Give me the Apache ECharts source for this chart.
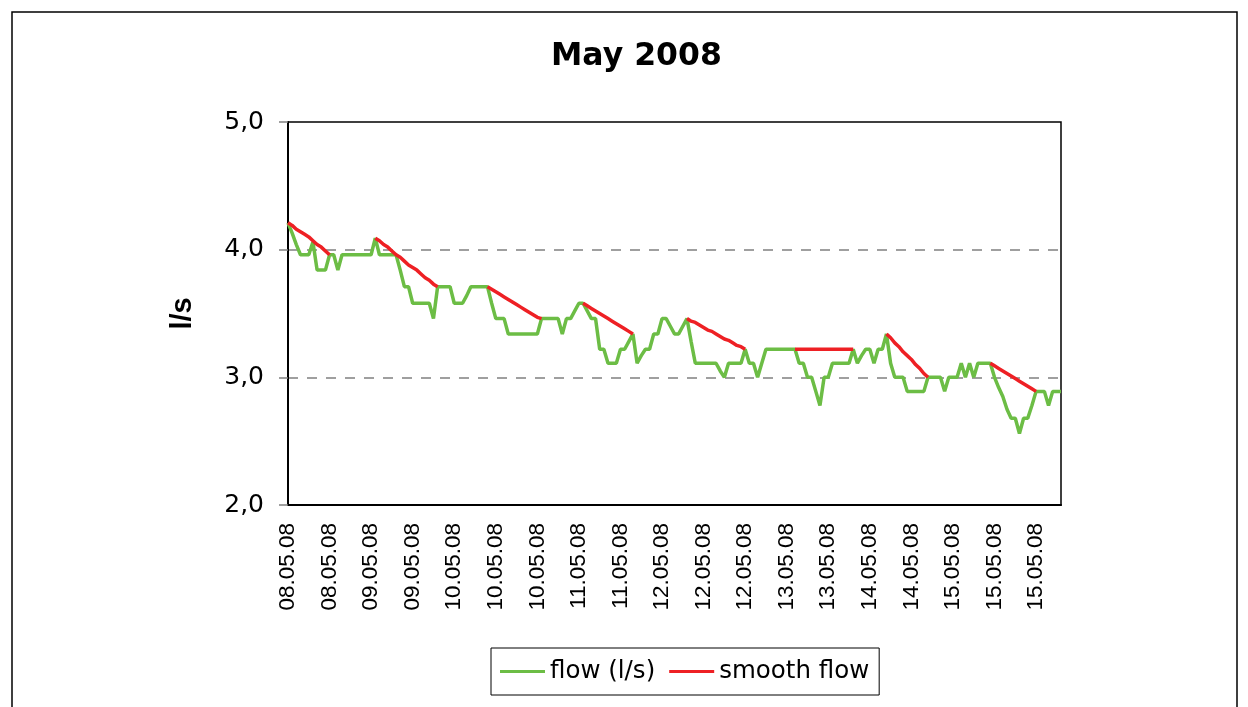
<!DOCTYPE html>
<html>
<head>
<meta charset="utf-8">
<script src="https://cdn.jsdelivr.net/npm/echarts@6/dist/echarts.min.js"></script>
<style>
html,body{margin:0;padding:0;background:#fff;}
#chart{width:1248px;height:707px;}
</style>
</head>
<body>
<div id="chart"></div>
<script>
// Tick labels shown on the x axis (one every 10 samples)
var tickLabels = ['08.05.08','08.05.08','09.05.08','09.05.08','10.05.08','10.05.08','10.05.08',
  '11.05.08','11.05.08','12.05.08','12.05.08','12.05.08','13.05.08','13.05.08',
  '14.05.08','14.05.08','15.05.08','15.05.08','15.05.08'];
var samplesPerTick = 10;

// flow (l/s), one value per sample
var flow = [
  4.21,4.13,4.04,3.96,3.96,3.96,4.06,3.84,3.84,3.84,
  3.96,3.96,3.84,3.96,3.96,3.96,3.96,3.96,3.96,3.96,
  3.96,4.09,3.96,3.96,3.96,3.96,3.96,3.84,3.71,3.71,
  3.58,3.58,3.58,3.58,3.58,3.46,3.71,3.71,3.71,3.71,
  3.58,3.58,3.58,3.64,3.71,3.71,3.71,3.71,3.71,3.58,
  3.46,3.46,3.46,3.34,3.34,3.34,3.34,3.34,3.34,3.34,
  3.34,3.46,3.46,3.46,3.46,3.46,3.34,3.46,3.46,3.52,
  3.58,3.58,3.52,3.46,3.46,3.22,3.22,3.11,3.11,3.11,
  3.22,3.22,3.28,3.34,3.11,3.17,3.22,3.22,3.34,3.34,
  3.46,3.46,3.40,3.34,3.34,3.40,3.46,3.28,3.11,3.11,
  3.11,3.11,3.11,3.11,3.05,3.00,3.11,3.11,3.11,3.11,
  3.22,3.11,3.11,3.00,3.11,3.22,3.22,3.22,3.22,3.22,
  3.22,3.22,3.22,3.11,3.11,3.00,3.00,2.89,2.78,3.00,
  3.00,3.11,3.11,3.11,3.11,3.11,3.22,3.11,3.17,3.22,
  3.22,3.11,3.22,3.22,3.34,3.11,3.00,3.00,3.00,2.89,
  2.89,2.89,2.89,2.89,3.00,3.00,3.00,3.00,2.89,3.00,
  3.00,3.00,3.11,3.00,3.11,3.00,3.11,3.11,3.11,3.11,
  3.00,2.92,2.85,2.75,2.68,2.68,2.56,2.68,2.68,2.78,
  2.89,2.89,2.89,2.78,2.89,2.89,2.89
];

// smooth flow: segments, each starting at a sample index
var smoothStarts = [0, 21, 48, 71, 96, 122, 144, 169];
var smoothSegments = [
  [4.21,4.19,4.16,4.14,4.12,4.10,4.07,4.04,4.02,3.99,3.96],
  [4.09,4.07,4.04,4.02,3.99,3.96,3.94,3.91,3.88,3.86,3.84,3.81,3.78,3.76,3.73,3.71],
  [3.71,3.69,3.67,3.65,3.63,3.61,3.59,3.57,3.55,3.53,3.51,3.49,3.47,3.46],
  [3.58,3.56,3.54,3.52,3.50,3.48,3.46,3.44,3.42,3.40,3.38,3.36,3.34],
  [3.46,3.44,3.43,3.41,3.39,3.37,3.36,3.34,3.32,3.30,3.29,3.27,3.25,3.24,3.22],
  [3.22,3.22,3.22,3.22,3.22,3.22,3.22,3.22,3.22,3.22,3.22,3.22,3.22,3.22,3.22],
  [3.34,3.31,3.27,3.24,3.20,3.17,3.14,3.10,3.07,3.03,3.00],
  [3.11,3.09,3.07,3.05,3.03,3.01,2.99,2.97,2.95,2.93,2.91,2.89]
];

// build category list and the smooth series table
var categories = flow.map(function (v, i) { return tickLabels[Math.floor(i / samplesPerTick)]; });
var smooth = flow.map(function () { return null; });
smoothStarts.forEach(function (s, k) {
  smoothSegments[k].forEach(function (v, j) { smooth[s + j] = v; });
});

var chart = echarts.init(document.getElementById('chart'), null, {renderer: 'canvas'});
chart.setOption({
  animation: false,
  backgroundColor: '#fff',
  title: {
    text: 'May 2008',
    left: 546, top: 36,
    textStyle: {fontFamily: 'DejaVu Sans', fontWeight: 'bold', fontSize: 31.5, color: '#000'}
  },
  graphic: [{
    type: 'rect', silent: true,
    shape: {x: 12, y: 12, width: 1225, height: 730},
    style: {fill: 'none', stroke: '#000', lineWidth: 1.5}
  }],
  legend: {
    left: 491, top: 648,
    padding: [11, 10, 11, 9],
    itemGap: 14,
    itemWidth: 45, itemHeight: 3,
    icon: 'rect',
    borderColor: '#000', borderWidth: 1,
    backgroundColor: '#fff',
    textStyle: {fontFamily: 'DejaVu Sans', fontSize: 24.5, color: '#000'},
    data: ['flow (l/s)', 'smooth flow']
  },
  grid: {
    left: 288, right: 187, top: 122, bottom: 202,
    show: true, borderColor: '#000', borderWidth: 1.5
  },
  xAxis: {
    type: 'category',
    data: categories,
    boundaryGap: false,
    axisLine: {lineStyle: {color: '#000', width: 2}},
    axisTick: {show: false},
    axisLabel: {
      interval: function (i) { return i % samplesPerTick === 0; },
      rotate: 90,
      margin: 18,
      hideOverlap: false,
      fontFamily: 'Liberation Sans', fontSize: 22.5, color: '#000'
    },
    splitLine: {show: false}
  },
  yAxis: {
    type: 'value',
    min: 2, max: 5, interval: 1,
    name: 'l/s',
    nameLocation: 'middle',
    nameGap: 91,
    nameTextStyle: {fontFamily: 'Liberation Sans', fontWeight: 'bold', fontSize: 29, color: '#000'},
    axisLine: {show: true, lineStyle: {color: '#000', width: 2}},
    axisTick: {show: true, length: 9, lineStyle: {color: '#808080', width: 1.5}},
    axisLabel: {
      margin: 24,
      fontFamily: 'DejaVu Sans', fontSize: 25, color: '#000',
      formatter: function (v) { return v.toFixed(1).replace('.', ','); }
    },
    splitLine: {
      show: true,
      showMinLine: false, showMaxLine: false,
      lineStyle: {color: '#808080', width: 1.5, type: [10, 9]}
    }
  },
  series: [
    {
      name: 'flow (l/s)', type: 'line', data: flow,
      symbol: 'none', color: '#6CBD45',
      lineStyle: {width: 3.5, color: '#6CBD45'}
    },
    {
      name: 'smooth flow', type: 'line', data: smooth,
      symbol: 'none', connectNulls: false, color: '#EE2024',
      lineStyle: {width: 3.5, color: '#EE2024'}
    }
  ]
});
</script>
</body>
</html>
